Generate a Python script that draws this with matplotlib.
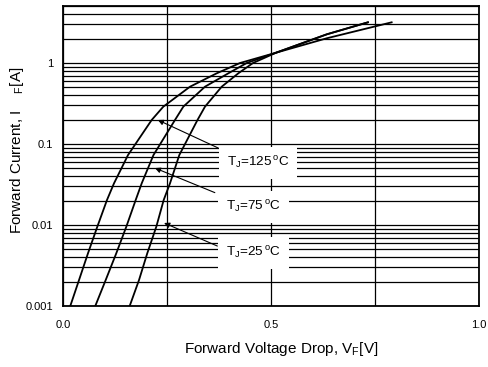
import numpy as np
import matplotlib
matplotlib.use("Agg")
import matplotlib.pyplot as plt
from matplotlib.ticker import FixedLocator, NullFormatter

plt.rcParams['font.family'] = ['Liberation Sans', 'DejaVu Sans']
plt.rcParams['mathtext.fontset'] = 'custom'
plt.rcParams['mathtext.rm'] = 'Liberation Sans'

# forward current levels (A) where the curves were read
i_read = [0.001, 0.00209, 0.00448, 0.00953, 0.0204, 0.0327, 0.0731, 0.198, 0.289, 0.510, 0.746, 1.0, 1.34]

# forward voltage (V) at those currents, then the high-current tail
vf_125 = [0.0175, 0.0385, 0.0601, 0.0825, 0.1058, 0.1226, 0.1563, 0.2132, 0.2411, 0.3053, 0.3695, 0.4255, 0.512, 0.634, 0.733]
if_125 = i_read + [2.26, 3.18]

vf_75 = [0.0776, 0.1026, 0.1281, 0.1522, 0.1748, 0.1892, 0.2175, 0.2692, 0.2892, 0.3413, 0.3974, 0.4416, 0.512, 0.634, 0.733]
if_75 = i_read + [2.26, 3.18]

vf_25 = [0.1603, 0.1827, 0.2026, 0.2243, 0.2421, 0.2572, 0.2796, 0.3233, 0.3413, 0.3815, 0.4214, 0.4567, 0.512, 0.634, 0.79]
if_25 = i_read + [2.02, 3.18]

labels = [r'T$_\mathrm{J}$=125$^{\,\mathrm{o}}$C', r'T$_\mathrm{J}$=75$^{\,\mathrm{o}}$C', r'T$_\mathrm{J}$=25$^{\,\mathrm{o}}$C']
label_pos = [(0.469, 0.0582), (0.457, 0.0167), (0.457, 0.00451)]
arrow_tip = [(0.228, 0.198), (0.221, 0.0505), (0.243, 0.0106)]
arrow_tail = [(0.373, 0.0893), (0.365, 0.0251), (0.371, 0.0055)]

fig = plt.figure(figsize=(4.88, 3.67), dpi=100)
ax = fig.add_axes([63 / 488, 1 - 306 / 367, 416 / 488, 299.6 / 367])

for v, i in [(vf_125, if_125), (vf_75, if_75), (vf_25, if_25)]:
    ax.plot(v, i, color='black', lw=1.3, zorder=3)

ax.set_yscale('log')
ax.set_xlim(0, 1.0)
ax.set_ylim(0.001, 5)

ax.xaxis.set_major_locator(FixedLocator([0.0, 0.5, 1.0]))
ax.xaxis.set_minor_locator(FixedLocator([0.25, 0.75]))
ax.set_xticklabels(['0.0', '0.5', '1.0'])
ax.yaxis.set_major_locator(FixedLocator([0.001, 0.01, 0.1, 1]))
ax.set_yticklabels(['0.001', '0.01', '0.1', '1'])
minor_y = [m * 10.0 ** e for e in range(-3, 1) for m in range(2, 10) if m * 10.0 ** e <= 5]
ax.yaxis.set_minor_locator(FixedLocator(minor_y))
ax.yaxis.set_minor_formatter(NullFormatter())

ax.grid(True, which='both', color='black', lw=0.9, zorder=1)
ax.tick_params(which='both', length=0, labelsize=8)
ax.tick_params(axis='x', pad=10)
ax.tick_params(axis='y', pad=7)
for s in ax.spines.values():
    s.set_linewidth(1.3)

for txt, pos, tip, tail in zip(labels, label_pos, arrow_tip, arrow_tail):
    ax.annotate('', xy=tip, xytext=tail,
                arrowprops=dict(arrowstyle='-|>', color='black', lw=0.8,
                                mutation_scale=8, shrinkA=0, shrinkB=0), zorder=4)
    ax.text(pos[0], pos[1], txt, fontsize=9.7, ha='center', va='center', zorder=5,
            bbox=dict(boxstyle='square,pad=0.6', fc='white', ec='none'))

ax.set_xlabel(r'Forward Voltage Drop, V$_\mathrm{F}$[V]', fontsize=11, va='center')
ax.xaxis.set_label_coords(0.524, -0.143)
ax.set_ylabel(r'Forward Current, I    $_\mathrm{F}$[A]', fontsize=11, va='center')
ax.yaxis.set_label_coords(-0.11, 0.52)

fig.savefig('out.png', dpi=100)
